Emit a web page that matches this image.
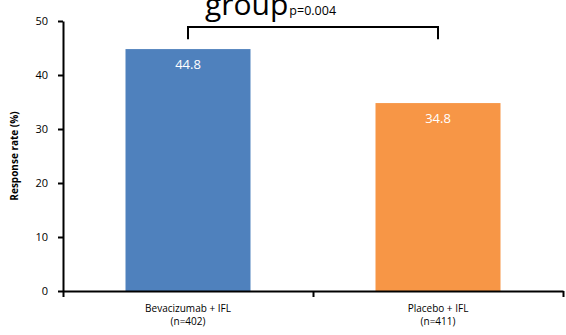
<!DOCTYPE html>
<html>
<head>
<meta charset="utf-8">
<script src="https://cdn.jsdelivr.net/npm/d3@7"></script>
<style>
  body { margin: 0; background: #fff; }
  svg { display: block; font-family: "Open Sans", sans-serif; }
  .axis path, .axis line { stroke: #000; stroke-width: 2; }
  .axis text { font-size: 11px; fill: #000; font-family: "Open Sans", sans-serif; }
</style>
</head>
<body>
<div id="chart"></div>
<script>
var categories = ["Bevacizumab + IFL", "Placebo + IFL"];
var sampleSizes = ["(n=402)", "(n=411)"];
var responseRates = [44.8, 34.8];
var barColors = ["#4f81bd", "#f79646"];
var yTicks = [0, 10, 20, 30, 40, 50];
var pValue = "p=0.004";

var w = 566,
  h = 335;

var svg = d3
  .select("#chart")
  .append("svg")
  .attr("width", w)
  .attr("height", h);

var plotLeft = 63,
  plotRight = 563,
  plotTop = 21,
  plotBottom = 291;

var x = d3
  .scaleBand()
  .domain(categories)
  .range([plotLeft, plotRight])
  .paddingInner(0.5)
  .paddingOuter(0.25);

// boundaries between categories, for the x ticks
var xEdge = d3
  .scaleLinear()
  .domain([0, categories.length])
  .range([plotLeft, plotRight]);

var y = d3
  .scaleLinear()
  .domain([0, 50])
  .range([plotBottom, plotTop]);

// bars
svg
  .append("g")
  .selectAll("rect")
  .data(responseRates)
  .enter()
  .append("rect")
  .attr("x", function(d, i) {
    return x(categories[i]);
  })
  .attr("y", function(d) {
    return y(d);
  })
  .attr("width", x.bandwidth())
  .attr("height", function(d) {
    return y(0) - y(d);
  })
  .attr("fill", function(d, i) {
    return barColors[i];
  });

// value labels inside bars
svg
  .append("g")
  .selectAll("text")
  .data(responseRates)
  .enter()
  .append("text")
  .attr("x", function(d, i) {
    return x(categories[i]) + x.bandwidth() / 2;
  })
  .attr("y", function(d) {
    return y(d) + 20;
  })
  .attr("text-anchor", "middle")
  .attr("font-size", "13px")
  .attr("fill", "#fff")
  .text(function(d) {
    return d.toFixed(1);
  });

// y axis
svg
  .append("g")
  .attr("class", "axis")
  .attr("transform", "translate(" + plotLeft + ",0)")
  .call(
    d3
      .axisLeft(y)
      .tickValues(yTicks)
      .tickSize(5)
      .tickPadding(10)
      .tickSizeOuter(0)
  );

// x axis
svg
  .append("g")
  .attr("class", "axis")
  .attr("transform", "translate(0," + plotBottom + ")")
  .call(
    d3
      .axisBottom(xEdge)
      .tickValues(d3.range(categories.length + 1))
      .tickFormat("")
      .tickSize(6)
      .tickSizeOuter(0)
  );

// category labels
var catLabels = svg
  .append("g")
  .selectAll("text")
  .data(categories)
  .enter()
  .append("text")
  .attr("text-anchor", "middle")
  .attr("font-size", "10px")
  .attr("fill", "#000");

catLabels
  .append("tspan")
  .attr("x", function(d) {
    return x(d) + x.bandwidth() / 2;
  })
  .attr("y", 312)
  .text(function(d) {
    return d;
  });

catLabels
  .append("tspan")
  .attr("x", function(d) {
    return x(d) + x.bandwidth() / 2;
  })
  .attr("y", 325)
  .text(function(d, i) {
    return sampleSizes[i];
  });

// y axis title
svg
  .append("text")
  .attr("transform", "translate(18," + (plotTop + plotBottom) / 2 + ") rotate(-90)")
  .attr("text-anchor", "middle")
  .attr("font-size", "10px")
  .attr("font-weight", "bold")
  .text("Response rate (%)");

// significance bracket
var bx1 = x(categories[0]) + x.bandwidth() / 2,
  bx2 = x(categories[1]) + x.bandwidth() / 2;
svg
  .append("path")
  .attr(
    "d",
    "M" + bx1 + "," + y(46.6) +
    "V" + y(48.9) +
    "H" + bx2 +
    "V" + y(46.6)
  )
  .attr("fill", "none")
  .attr("stroke", "#000")
  .attr("stroke-width", 2);

// title fragment (cut off at the top in the original)
var title = svg
  .append("text")
  .attr("x", 205)
  .attr("y", 15)
  .attr("font-size", "30px")
  .attr("fill", "#000");
title.append("tspan").text("group");
title
  .append("tspan")
  .attr("font-size", "12.5px")
  .attr("dx", 1)
  .text(pValue);
</script>
</body>
</html>
